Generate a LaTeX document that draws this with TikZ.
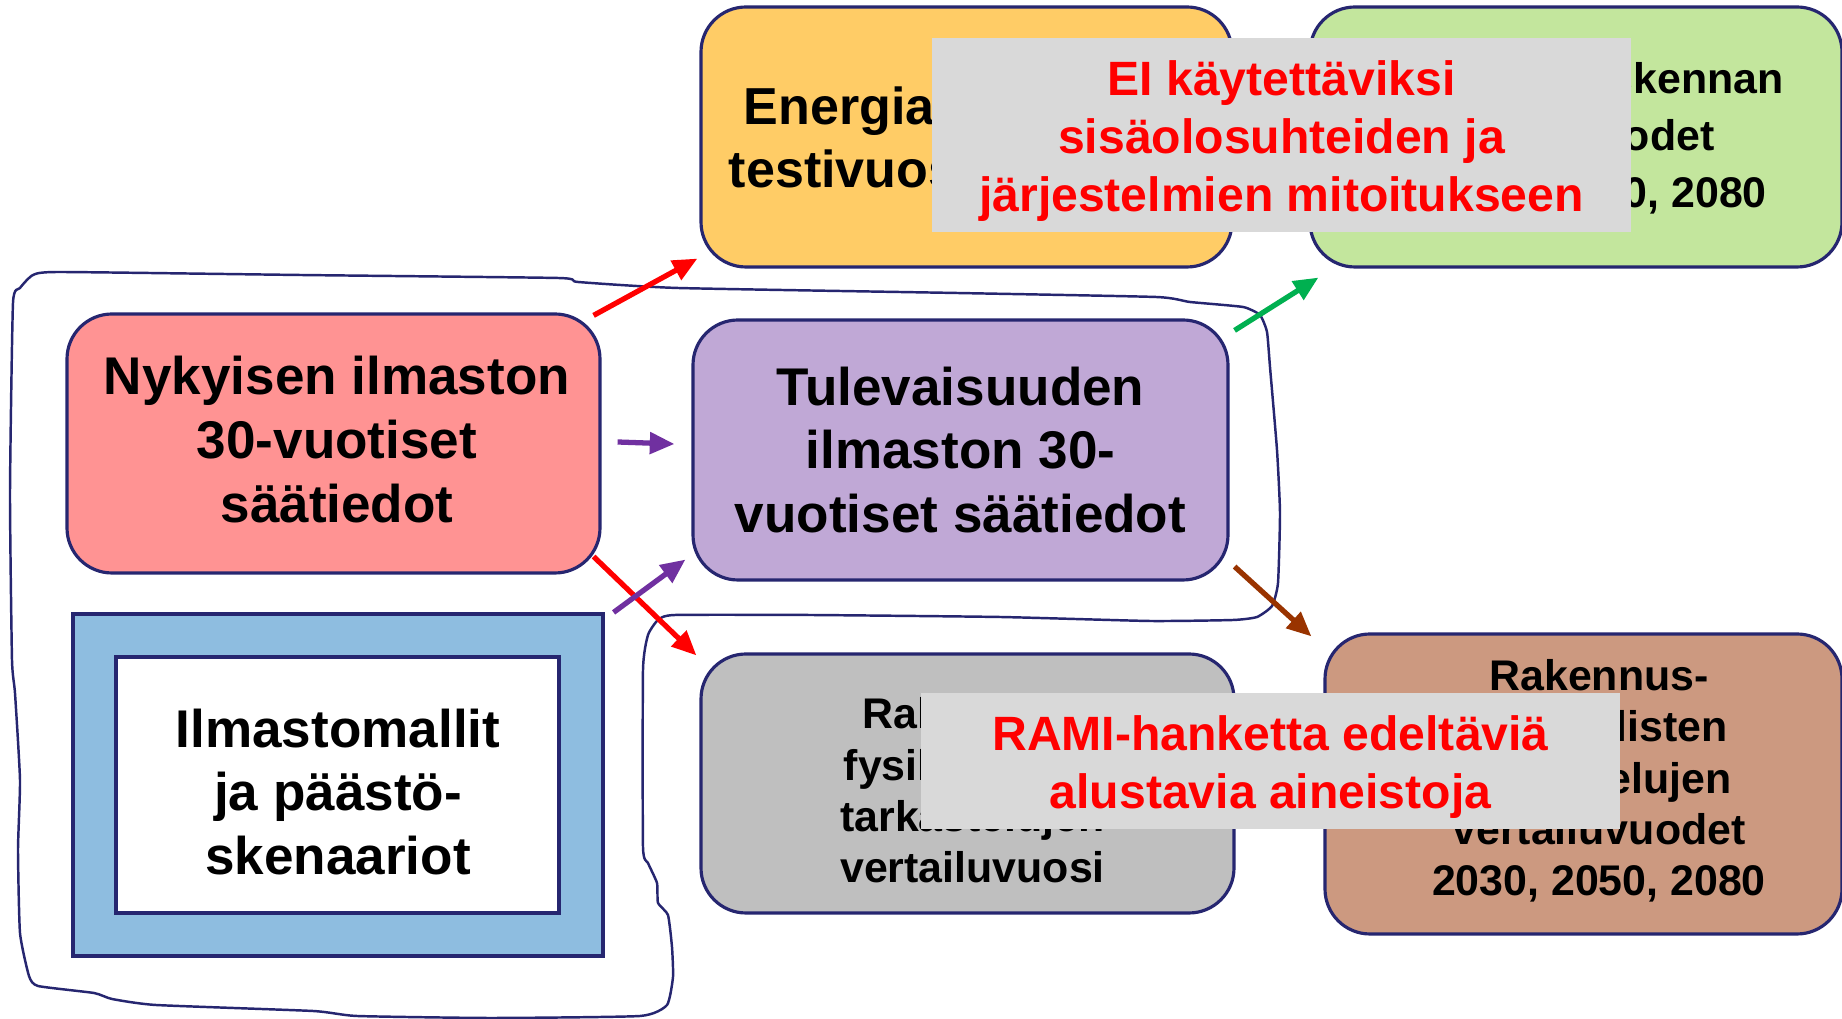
\documentclass[tikz,border=0pt]{standalone}
\usepackage{fontspec}
\setmainfont{Liberation Sans}
\usepackage{tikz}
\usetikzlibrary{arrows.meta, positioning}

\definecolor{edge}{RGB}{38,38,112}
\definecolor{redfill}{RGB}{255,147,147}
\definecolor{orangefill}{RGB}{255,204,102}
\definecolor{greenfill}{RGB}{195,230,157}
\definecolor{purplefill}{RGB}{192,168,214}
\definecolor{grayfill}{RGB}{191,191,191}
\definecolor{brownfill}{RGB}{204,153,128}
\definecolor{bluefill}{RGB}{142,189,224}
\definecolor{notegray}{RGB}{217,217,217}
\definecolor{arrpurple}{RGB}{112,48,160}
\definecolor{arrgreen}{RGB}{0,176,80}
\definecolor{arrbrown}{RGB}{153,51,0}

\tikzset{
  roundbox/.style={draw=edge, line width=0.9pt, rounded corners=4.5mm, align=center, inner sep=0pt},
  bigfont/.style={font=\fontsize{15.1}{18.1}\selectfont\bfseries},
  midfont/.style={font=\fontsize{14.8}{17.9}\selectfont\bfseries},
  greenfont/.style={font=\fontsize{12.2}{16.2}\selectfont\bfseries},
  smallfont/.style={font=\fontsize{12.2}{14.6}\selectfont\bfseries},
  notebox/.style={fill=notegray, inner sep=0pt},
  notetext/.style={align=center, text=red, inner sep=0pt, font=\fontsize{13.7}{16.5}\selectfont\bfseries},
  arr/.style={line width=1.5pt, -{Triangle[length=7pt,width=6pt]}},
  freehand/.style={draw=edge, line width=0.7pt}
}

\begin{document}
\begin{tikzpicture}[x=0.1mm, y=-0.1mm]
    \path[use as bounding box, fill=white] (0,0) rectangle (1842,1019);

    \node[roundbox, fill=orangefill, minimum width=53.1mm, minimum height=26mm, midfont] (ene) at (966.5,137) {Energialaskennan\\testivuosi TRY2012};
    \node[roundbox, fill=greenfill, minimum width=53.2mm, minimum height=26mm] (tyv) at (1576,137) {};
    \node[align=center, greenfont] (tyvtext) at (1600,138) {Energialaskennan\\testivuodet\\2030, 2050, 2080};

    \node[roundbox, fill=redfill, minimum width=53.3mm, minimum height=25.9mm] (nyk) at (333.5,443.5) {};
    \node[align=center, bigfont] (nyktext) at (337,439.5) {Nykyisen ilmaston\\30-vuotiset\\säätiedot};
    \node[roundbox, fill=purplefill, minimum width=53.5mm, minimum height=26mm, bigfont] (tul) at (960.5,450) {Tulevaisuuden\\ilmaston 30-\\vuotiset säätiedot};

    \node[draw=edge, line width=0.9pt, fill=bluefill, minimum width=53mm, minimum height=34.2mm] (ilm) at (338,785) {};
    \node[draw=edge, line width=0.9pt, fill=white, minimum width=44.3mm, minimum height=25.6mm] (ilmbox) at (337.5,785) {};
    \node[align=center, bigfont] (ilmtext) at (338,792) {Ilmastomallit\\ja päästö-\\skenaariot};

    \node[roundbox, fill=grayfill, minimum width=53.3mm, minimum height=25.9mm] (ver) at (967.5,783.5) {};
    \node[align=center, smallfont] (vertext) at (972.5,790.5) {Rakennus-\\fysikaalisten\\tarkastelujen\\vertailuvuosi};
    \node[roundbox, fill=brownfill, minimum width=51.7mm, minimum height=30mm] (rak) at (1583.5,784) {};
    \node[align=center, smallfont] (raktext) at (1599,781) {Rakennus-\\fysikaalisten\\tarkastelujen\\vertailuvuodet\\2030, 2050, 2080};

    \node[notebox, minimum width=69.9mm, minimum height=19.4mm] (eikay) at (1281.5,135) {};
    \node[notetext] (eikaytext) at (1281.5,141) {EI käytettäviksi\\sisäolosuhteiden ja\\järjestelmien mitoitukseen};
    \node[notebox, minimum width=69.9mm, minimum height=13.6mm] (rami) at (1270.5,761) {};
    \node[notetext] (ramitext) at (1270.5,767) {RAMI-hanketta edeltäviä\\alustavia aineistoja};

    \draw[freehand] plot[smooth cycle, tension=0.3] coordinates {
        (33,275) (60,272) (300,275) (558,278) (578,282) (678,288) (957,293)
        (1156,297) (1190,302) (1243,307) (1260,315) (1267,332) (1270,367)
        (1277,450) (1280,513) (1278,583) (1272,606) (1257,617) (1233,620)
        (1150,621) (1000,617) (810,615) (675,615) (658,620) (648,635)
        (643,670) (643,847) (648,863) (657,883) (658,903) (668,915)
        (672,947) (673,977) (667,1005) (640,1016) (491,1018) (357,1016)
        (313,1011) (156,1005) (112,999) (94,993) (38,986) (29,976)
        (20,933) (18,850) (20,780) (15,693) (12,660) (10,493) (13,303) (20,288)};

    \draw[arr, red] ([shift={(-8,3)}]nyk.north east) -- ([shift={(-2,-10)}]ene.south west);
    \draw[arr, red] ([shift={(-8,-18)}]nyk.south east) -- ([shift={(-3,3)}]ver.north west);
    \draw[arr, arrpurple] ([shift={(16,-1.5)}]nyk.east) -- ([shift={(-17,-6)}]tul.west);
    \draw[arr, arrpurple] ([shift={(9,0)}]ilm.north east) -- ([shift={(-6,-22)}]tul.south west);
    \draw[arr, arrgreen] ([shift={(5,12)}]tul.north east) -- ([shift={(10,9)}]tyv.south west);
    \draw[arr, arrbrown] ([shift={(5,-15)}]tul.south east) -- ([shift={(-12,4)}]rak.north west);
\end{tikzpicture}
\end{document}
